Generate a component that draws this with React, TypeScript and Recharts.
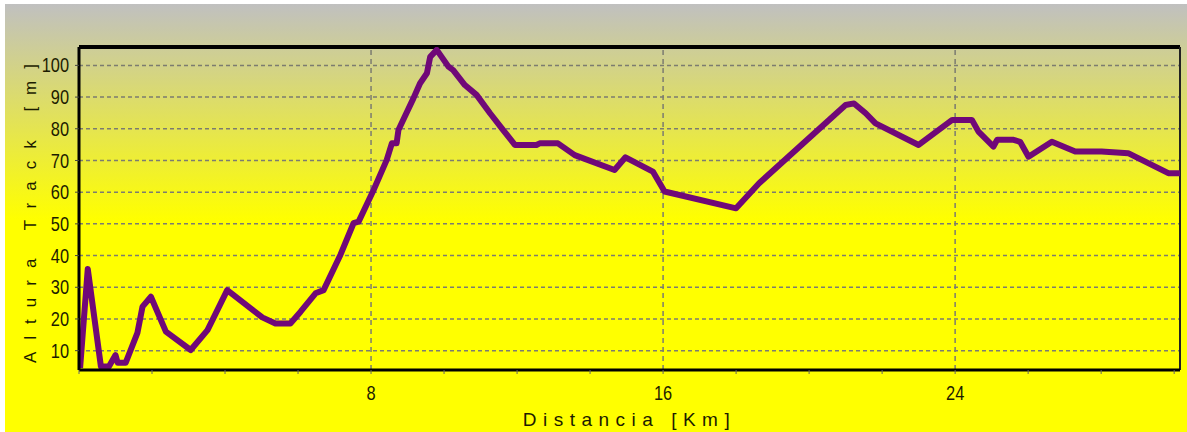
import { LineChart, Line, XAxis, YAxis, CartesianGrid, ReferenceLine } from 'recharts'

// distance (km) and altitude (m)
const distKm = [
  0.03, 0.24, 0.6, 0.82, 1.0, 1.06, 1.28, 1.6, 1.74, 1.97, 2.38, 3.06, 3.52, 4.06, 5.02, 5.38, 5.79, 6.07,
  6.48, 6.7, 7.16, 7.52, 7.66, 8.07, 8.43, 8.57, 8.7, 8.75, 9.16, 9.34, 9.53, 9.62, 9.8, 10.12, 10.25,
  10.57, 10.89, 11.26, 11.62, 11.94, 12.53, 12.62, 13.12, 13.58, 14.67, 14.97, 15.72, 16.04, 18.0, 18.63,
  21.0, 21.23, 21.55, 21.82, 23.0, 23.92, 24.46, 24.64, 25.05, 25.15, 25.6, 25.78, 26.01, 26.65, 27.29,
  28.01, 28.74, 29.84, 30.16,
]
const altM = [
  4.5, 35.8, 5, 5, 8.6, 6.2, 6.2, 15.6, 23.9, 27, 16, 10.2, 16.5, 29.1, 20.5, 18.6, 18.6, 22.3,
  28.1, 29.1, 40.2, 50.2, 50.7, 60.7, 70.2, 75.4, 75.4, 79.6, 89.6, 94.3, 97.5, 102.7, 104.9, 99.6, 98.5,
  93.8, 90.7, 84.9, 79.6, 74.9, 74.9, 75.4, 75.4, 71.7, 67, 71, 66.5, 60.2, 54.9, 62.8,
  87.5, 88, 84.9, 81.7, 74.9, 82.8, 82.8, 79.1, 74.4, 76.5, 76.5, 75.9, 71.2, 75.9, 72.8,
  72.8, 72.3, 66, 66,
]

const xTicks = [0, 2, 4, 6, 8, 10, 12, 14, 16, 18, 20, 22, 24, 26, 28, 30]
const xGrid = [8, 16, 24]
const yTicks = [10, 20, 30, 40, 50, 60, 70, 80, 90, 100]
const xDomain: [number, number] = [0, 30.16]
const yDomain: [number, number] = [3.9, 105.8]

const data = distKm.map((km, i) => ({ km, alt: altM[i] }))

const tickFamily = '"Liberation Sans", Arial, sans-serif'
const titleFont = '"Liberation Sans", Arial, sans-serif'
const ink = '#1c1c00'

// narrow, tall digits like the original program's font
function NarrowTick(props: any) {
  const { x, y, payload, anchor, label } = props
  if (!label) return null
  return (
    <text
      x={0}
      y={0}
      transform={`translate(${x} ${y}) scale(0.82 1)`}
      textAnchor={anchor}
      dominantBaseline="central"
      fontFamily={tickFamily}
      fontSize={20}
      fill={ink}
    >
      {label(payload.value)}
    </text>
  )
}

export default function App() {
  return (
    <div style={{ position: 'fixed', left: 0, top: 0, width: 1187, height: 432, background: '#fff' }}>
      <div
        style={{
          position: 'absolute',
          left: 5,
          top: 4,
          width: 1182,
          height: 428,
          background: 'linear-gradient(to bottom, #c0c0c0 0px, #ffff00 215px, #ffff00 100%)',
        }}
      >
        <LineChart width={1182} height={428} data={data} margin={{ top: 43, right: 7, bottom: 4, left: 14 }}>
          <CartesianGrid vertical={false} stroke="#7c7c70" strokeWidth={1.5} strokeDasharray="4 3" />
          {xGrid.map((x) => (
            <ReferenceLine key={x} x={x} stroke="#7c7c70" strokeWidth={1.5} strokeDasharray="5 4" />
          ))}
          {/* frame: heavy top edge, thin right edge */}
          <ReferenceLine y={yDomain[1]} stroke="#000" strokeWidth={4} ifOverflow="visible" />
          <ReferenceLine x={xDomain[1]} stroke="#222" strokeWidth={2} ifOverflow="visible" />
          <XAxis
            dataKey="km"
            type="number"
            domain={xDomain}
            allowDataOverflow
            ticks={xTicks}
            tick={(p: any) => (
              <NarrowTick
                {...p}
                y={p.y + 7}
                anchor="middle"
                label={(v: number) => (v > 0 && v % 8 === 0 ? String(v) : '')}
              />
            )}
            tickLine={{ stroke: '#666' }}
            tickSize={4}
            tickMargin={12}
            axisLine={{ stroke: '#000', strokeWidth: 3 }}
            height={58}
            label={(props: any) => {
              const vb = props.viewBox
              return (
                <text
                  x={vb.x + vb.width / 2}
                  y={vb.y + 56}
                  textAnchor="middle"
                  fontFamily={titleFont}
                  fontSize={19}
                  letterSpacing={6.5}
                  fill={ink}
                >
                  Distancia [Km]
                </text>
              )
            }}
          />
          <YAxis
            type="number"
            domain={yDomain}
            allowDataOverflow
            ticks={yTicks}
            tick={(p: any) => <NarrowTick {...p} anchor="end" label={(v: number) => String(v)} />}
            tickLine={{ stroke: '#444' }}
            tickSize={4}
            tickMargin={6}
            axisLine={{ stroke: '#000', strokeWidth: 3 }}
            width={60}
            label={(props: any) => {
              const vb = props.viewBox
              const cx = 25
              const cy = vb.y + vb.height / 2 - 1
              return (
                <text
                  x={cx}
                  y={cy}
                  transform={`rotate(-90 ${cx} ${cy})`}
                  textAnchor="middle"
                  dominantBaseline="central"
                  fontFamily={titleFont}
                  fontSize={17}
                  letterSpacing={12}
                  fill={ink}
                >
                  Altura Track [m]
                </text>
              )
            }}
          />
          <Line
            type="linear"
            dataKey="alt"
            stroke="#700878"
            strokeWidth={6}
            strokeLinejoin="round"
            dot={false}
            activeDot={false}
            isAnimationActive={false}
          />
        </LineChart>
      </div>
    </div>
  )
}
